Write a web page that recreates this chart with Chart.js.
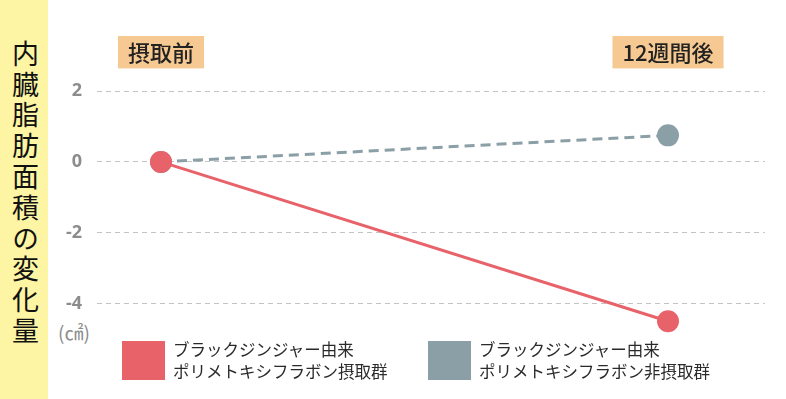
<!DOCTYPE html>
<html>
<head>
<meta charset="utf-8">
<script src="https://cdn.jsdelivr.net/npm/chart.js@4"></script>
<style>
  html, body { margin: 0; padding: 0; background: #fff; }
  #wrap { position: relative; width: 786px; height: 399px; overflow: hidden; font-family: "Noto Sans CJK JP", sans-serif; }
  #band { position: absolute; left: 0; top: 0; width: 48px; height: 399px; background: #fdf5a3; }
  #ytitle { position: absolute; left: 8px; top: 40px; writing-mode: vertical-rl; font-size: 27px; letter-spacing: 3.8px; color: #111; line-height: 34px; }
  #unit { position: absolute; left: 58px; top: 318px; font-size: 19px; color: #8c8c8c; }
  #chart { position: absolute; left: 0; top: 0; }
  .legend-item { position: absolute; top: 338px; display: flex; align-items: center; }
  .legend-item .sw { width: 43px; height: 39px; margin-right: 8px; }
  .legend-item .tx { font-size: 16.5px; line-height: 22px; color: #2a2a2a; }
</style>
</head>
<body>
<div id="wrap">
  <div id="band"></div>
  <div id="ytitle">内臓脂肪面積の変化量</div>
  <div id="unit">(㎠)</div>
  <canvas id="chart" width="786" height="399"></canvas>
  <div id="legend"></div>
</div>
<script>
// --- DATA ---
const xLabels = ['摂取前', '12週間後'];
const xValues = [0, 1];
const intakeValues = [0, -4.5];
const nonIntakeValues = [0, 0.75];
const yTicks = [2, 0, -2, -4];
const intakeLegend = ['ブラックジンジャー由来', 'ポリメトキシフラボン摂取群'];
const nonIntakeLegend = ['ブラックジンジャー由来', 'ポリメトキシフラボン非摂取群'];

const RED = '#e8626a';
const GRAY = '#8b9fa6';

function toPoints(vals) {
  return vals.map((v, i) => ({ x: xValues[i], y: v }));
}

// --- CHART ---
const ctx = document.getElementById('chart').getContext('2d');
const chart = new Chart(ctx, {
  type: 'line',
  data: {
    datasets: [
      { label: intakeLegend.join(''), legendLines: intakeLegend, data: toPoints(intakeValues),
        borderColor: RED, backgroundColor: RED, borderWidth: 3,
        pointRadius: 11, pointBorderWidth: 0, pointBackgroundColor: RED },
      { label: nonIntakeLegend.join(''), legendLines: nonIntakeLegend, data: toPoints(nonIntakeValues),
        borderColor: GRAY, backgroundColor: GRAY, borderWidth: 3, borderDash: [10, 6],
        pointRadius: 11, pointBorderWidth: 0, pointBackgroundColor: GRAY }
    ]
  },
  options: {
    responsive: false,
    animation: false,
    events: [],
    layout: { padding: { left: 48, right: 21, top: 31, bottom: 60 } },
    plugins: { legend: { display: false }, tooltip: { enabled: false } },
    scales: {
      x: {
        type: 'linear',
        position: 'top',
        min: -0.1262,
        max: 1.1913,
        afterBuildTicks: (scale) => { scale.ticks = xValues.map(v => ({ value: v })); },
        grid: { display: false, drawTicks: false },
        border: { display: false },
        ticks: {
          callback: (v, i) => xLabels[i],
          font: { family: '"Noto Sans CJK JP", sans-serif', size: 22, weight: 500 },
          color: '#222',
          padding: 8,
          maxRotation: 0,
          autoSkip: false,
          showLabelBackdrop: true,
          backdropColor: '#f6c992',
          backdropPadding: { x: 10, y: 3 }
        }
      },
      y: {
        min: -5,
        max: 2.5,
        afterBuildTicks: (scale) => { scale.ticks = yTicks.map(v => ({ value: v })); },
        afterFit: (scale) => { scale.width = 49; },
        grid: { color: '#c4c4c4', lineWidth: 1, drawTicks: false },
        border: { display: false, dash: [5, 4] },
        ticks: {
          font: { family: '"Open Sans", sans-serif', size: 18, weight: 'bold' },
          color: '#8c8c8c',
          padding: 15
        }
      }
    }
  }
});

// --- HTML LEGEND ---
const legendPos = [122, 428];
document.getElementById('legend').innerHTML = chart.data.datasets.map((ds, i) => `
  <div class="legend-item" style="left:${legendPos[i]}px">
    <div class="sw" style="background:${ds.borderColor}"></div>
    <div class="tx">${ds.legendLines.join('<br>')}</div>
  </div>`).join('');
</script>
</body>
</html>
